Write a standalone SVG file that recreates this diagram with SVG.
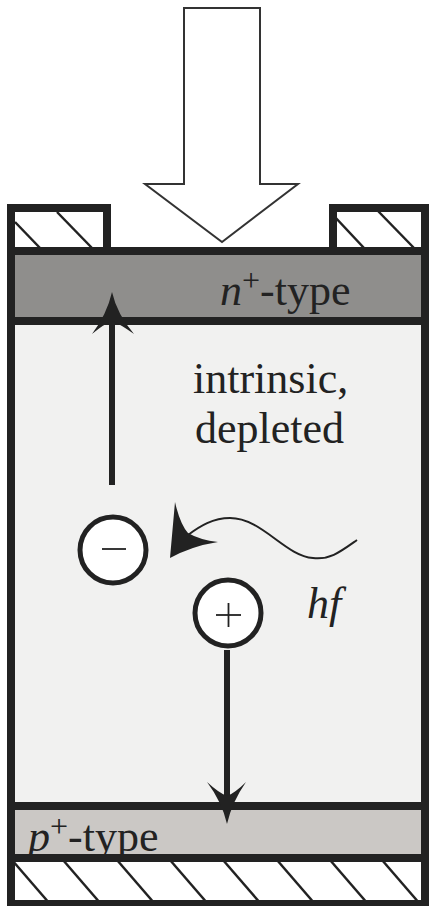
<svg xmlns="http://www.w3.org/2000/svg" width="429" height="906" viewBox="0 0 429 906">
<style>
.wall{stroke:#222;stroke-width:8;fill:none;stroke-linecap:square}
.hatch{stroke:#222;stroke-width:2.5;fill:none}
.lbl{font-size:44px;fill:#222}
.it{font-style:italic}
.circ{fill:#fff;stroke:#222;stroke-width:5}
.sign{stroke:#222;stroke-width:1.8;fill:none}
.shaft{stroke:#222;stroke-width:6;fill:none}
.head{fill:#222;stroke:none}
</style>
<rect width="429" height="906" fill="#fff"/>
<g id="light-arrow">
<polygon points="184,8 260,8 260,184 298,184 222,242 145,184 184,184" fill="#fff" stroke="#333" stroke-width="2"/>
</g>
<g id="layers">
<rect x="11" y="208" width="96" height="43" fill="#fff"/>
<rect x="333" y="208" width="96" height="43" fill="#fff"/>
<rect x="11" y="251" width="418" height="70" fill="#8f8e8c"/>
<rect x="11" y="321" width="418" height="485" fill="#f1f1f0"/>
<rect x="11" y="806" width="418" height="52" fill="#cbc8c5"/>
<rect x="11" y="858" width="418" height="48" fill="#fff"/>
</g>
<g id="hatching">
<line class="hatch" x1="15" y1="222" x2="40" y2="248"/>
<line class="hatch" x1="57" y1="212" x2="92" y2="248"/>
<line class="hatch" x1="334" y1="216" x2="364" y2="248"/>
<line class="hatch" x1="378" y1="211" x2="414" y2="248"/>
<line class="hatch" x1="12" y1="860" x2="50" y2="904"/>
<line class="hatch" x1="63" y1="860" x2="101" y2="904"/>
<line class="hatch" x1="117" y1="860" x2="155" y2="904"/>
<line class="hatch" x1="170" y1="860" x2="208" y2="904"/>
<line class="hatch" x1="223" y1="860" x2="261" y2="904"/>
<line class="hatch" x1="277" y1="860" x2="315" y2="904"/>
<line class="hatch" x1="330" y1="860" x2="368" y2="904"/>
<line class="hatch" x1="382" y1="860" x2="420" y2="904"/>
</g>
<g id="frame">
<line class="wall" x1="11" y1="208" x2="11" y2="906"/>
<line class="wall" x1="425" y1="208" x2="425" y2="906"/>
<line class="wall" x1="11" y1="208" x2="107" y2="208"/>
<line class="wall" x1="107" y1="208" x2="107" y2="251"/>
<line class="wall" x1="333" y1="208" x2="425" y2="208"/>
<line class="wall" x1="333" y1="208" x2="333" y2="251"/>
<line class="wall" x1="11" y1="251" x2="425" y2="251"/>
<line class="wall" x1="11" y1="321" x2="425" y2="321"/>
<line class="wall" x1="11" y1="806" x2="425" y2="806"/>
<line class="wall" x1="11" y1="858" x2="425" y2="858"/>
<line class="wall" x1="11" y1="904" x2="425" y2="904"/>
</g>
<g id="connectors">
<line class="shaft" x1="112" y1="485" x2="112" y2="315"/>
<path class="head" d="M112,292 Q117,314 134,334 Q120,324 112,321 Q104,324 92,334 Q107,314 112,292 Z"/>
<line class="shaft" x1="227" y1="650" x2="227" y2="800"/>
<path class="head" d="M227,824 Q232,802 246,782 Q235,793 227,796 Q219,793 207,782 Q222,802 227,824 Z"/>
<path d="M357,540 C340,552 330,560 313,558 C285,556 262,518 230,518 C213,518 200,526 188,535" fill="none" stroke="#222" stroke-width="2"/>
<path class="head" d="M170,558 L175,502 Q180,524 188,533 Q200,540 218,542 Q192,546 170,558 Z"/>
</g>
<g id="electron">
<circle class="circ" cx="113" cy="550" r="33"/>
<line class="sign" x1="102" y1="549" x2="126" y2="549"/>
</g>
<g id="hole">
<circle class="circ" cx="228" cy="613" r="33"/>
<line class="sign" x1="216" y1="615" x2="241" y2="615"/>
<line class="sign" x1="228.5" y1="603" x2="228.5" y2="627"/>
</g>
<g id="labels" font-family="'Liberation Serif', 'DejaVu Serif', serif">
<text class="lbl" x="220" y="305"><tspan class="it">n</tspan><tspan dy="-14" font-size="32">+</tspan><tspan dy="14">-type</tspan></text>
<text class="lbl" x="193" y="393">intrinsic,</text>
<text class="lbl" x="195" y="443">depleted</text>
<text class="lbl it" x="307" y="618">hf</text>
<text class="lbl" x="28" y="851"><tspan class="it">p</tspan><tspan dy="-14" font-size="32">+</tspan><tspan dy="14">-type</tspan></text>
</g>
</svg>
